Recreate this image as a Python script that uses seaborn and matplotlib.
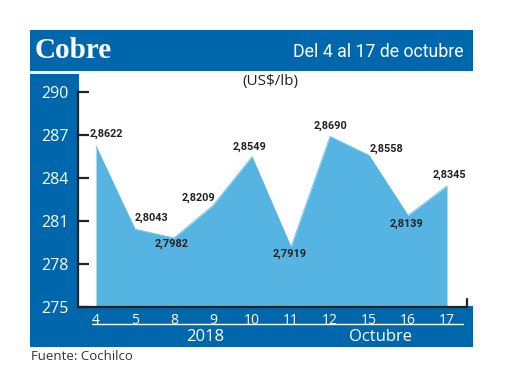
import matplotlib
matplotlib.use("Agg")
import matplotlib.pyplot as plt
import seaborn as sns
import pandas as pd
from matplotlib.patches import Rectangle

days = ["4", "5", "8", "9", "10", "11", "12", "15", "16", "17"]
prices = [286.22, 280.43, 279.82, 282.09, 285.49, 279.19, 286.90, 285.58, 281.39, 283.45]
labels = ["2,8622", "2,8043", "2,7982", "2,8209", "2,8549", "2,7919", "2,8690", "2,8558", "2,8139", "2,8345"]
yticks = [275, 278, 281, 284, 287, 290]

# label offsets from each point, in pixels (dx right, dy up)
label_offsets = [(10, 12), (16, 11), (-2, -6), (-14, 8), (-2, 10), (-1, -7), (0, 11), (17, 7), (-2, -8), (2, 11)]

BLUE = "#0067AD"
FILL = "#56B4E3"
DARK = "#222222"
W, H = 520, 390

sns.set_theme(style="white")
plt.rcParams["font.family"] = ["Open Sans", "DejaVu Sans"]

fig = plt.figure(figsize=(5.2, 3.9), dpi=100)

def fx(x): return x / W
def fy(y): return 1 - y / H

bg = fig.add_axes([0, 0, 1, 1], zorder=-1)
bg.set_xlim(0, W)
bg.set_ylim(H, 0)
bg.axis("off")
bg.add_patch(Rectangle((30, 30), 443, 41, color=BLUE, lw=0))
bg.add_patch(Rectangle((30, 74), 49, 273, color=BLUE, lw=0))
bg.add_patch(Rectangle((30, 306), 443, 41, color=BLUE, lw=0))
bg.plot([92, 463], [324, 324], color="white", lw=1)
bg.text(35, 51, "Cobre", color="white", fontsize=21, fontweight="bold", va="center", ha="left",
        family=["Liberation Serif", "DejaVu Serif"])
bg.text(464, 52, "Del 4 al 17 de octubre", color="white", fontsize=12.8, va="center", ha="right",
        family=["Roboto", "DejaVu Sans"])
bg.text(270, 81, "(US$/lb)", color=DARK, fontsize=11, va="center", ha="center")
bg.text(205, 337, "2018", color="white", fontsize=12, va="center", ha="center")
bg.text(380, 337, "Octubre", color="white", fontsize=12, va="center", ha="center")
bg.text(31, 357, "Fuente: Cochilco", color="#333333", fontsize=9.5, va="center", ha="left")

ax = fig.add_axes([fx(78), fy(307), fx(467 - 78), (307 - 92) / H], zorder=1)
ax.patch.set_alpha(0)

df = pd.DataFrame({"x": range(len(days)), "price": prices})
sns.lineplot(data=df, x="x", y="price", ax=ax, color=FILL, linewidth=0.5)
ax.fill_between(df["x"], 275, df["price"], color=FILL, linewidth=0, zorder=1)

ax.set_ylim(275, 290)
ax.set_xlim(-18 / 39, 9 + 20 / 39)
ax.set_yticks(yticks)
ax.set_yticklabels([str(t) for t in yticks], color="white", fontsize=11.5)
ax.set_xticks(range(len(days)))
ax.set_xticklabels(days, color="white", fontsize=10)
ax.tick_params(axis="y", direction="in", length=8, width=1.6, color=DARK, pad=7, left=True)
ax.tick_params(axis="x", length=0, pad=4)
ax.set_xlabel("")
ax.set_ylabel("")
for s in ["top", "right"]:
    ax.spines[s].set_visible(False)
for s in ["left", "bottom"]:
    ax.spines[s].set_color(DARK)
    ax.spines[s].set_linewidth(1.6)
ax.plot([1, 1], [0, 0.035], transform=ax.transAxes, color=DARK, lw=1.6, clip_on=False)

fam = ["Roboto", "DejaVu Sans"]
for i, (v, lab, (dx, dy)) in enumerate(zip(prices, labels, label_offsets)):
    ax.annotate(lab, (i, v), xytext=(dx * 0.72, dy * 0.72), textcoords="offset points",
                ha="center", va="center", fontsize=7.8, fontweight="bold", color=DARK, family=fam)

fig.savefig("out.png", dpi=100, facecolor="white")
